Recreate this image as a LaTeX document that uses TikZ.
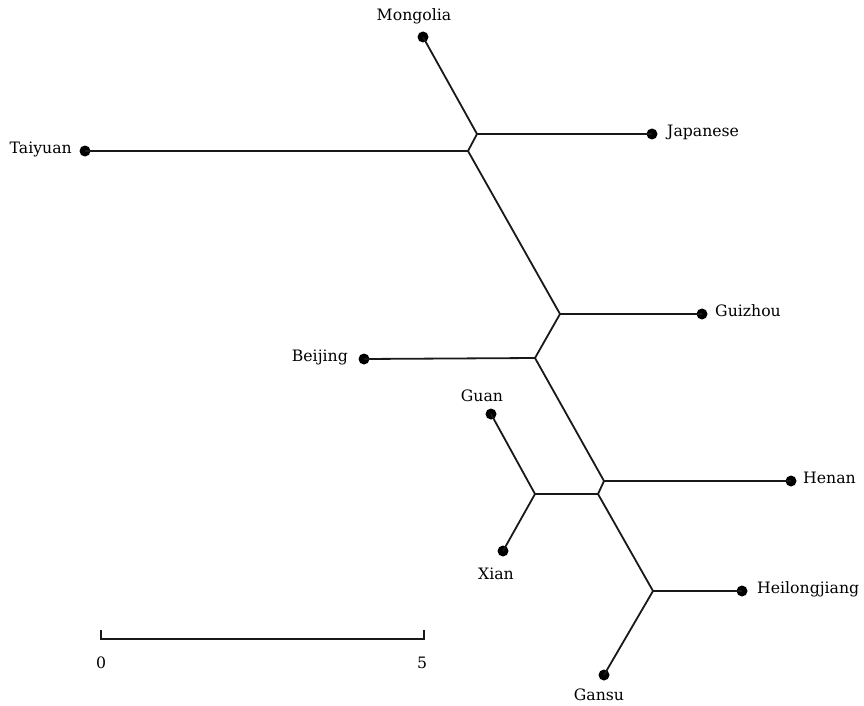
\documentclass[tikz,border=0pt]{standalone}
\usepackage{fontspec}
\setmainfont{DejaVu Serif}
\begin{document}
\begin{tikzpicture}[x=1pt,y=-1pt,
  branch/.style={line width=1.8pt,black!90},
  leaf/.style={circle,fill=black,inner sep=0pt,minimum size=11pt},
  lbl/.style={inner sep=0pt,font=\fontsize{15.7}{18}\selectfont,text=black}]
  \useasboundingbox[fill=white] (0,0) rectangle (864,706);

  % internal junctions of the tree
  \coordinate (jA) at (477,134);
  \coordinate (jB) at (468,151);
  \coordinate (jC) at (560,314);
  \coordinate (jD) at (535,358);
  \coordinate (jE) at (604,481);
  \coordinate (jG) at (598,494);
  \coordinate (jF) at (535,494);
  \coordinate (jH) at (653,591);

  % leaves
  \node[leaf] (mongolia) at (423,37) {};
  \node[leaf] (japanese) at (652,134) {};
  \node[leaf] (taiyuan) at (85,151) {};
  \node[leaf] (guizhou) at (702,314) {};
  \node[leaf] (beijing) at (364,359) {};
  \node[leaf] (guan) at (491,414) {};
  \node[leaf] (henan) at (791,481) {};
  \node[leaf] (xian) at (503,551) {};
  \node[leaf] (heilong) at (742,591) {};
  \node[leaf] (gansu) at (604,675) {};

  % branches
  \draw[branch] (mongolia.center) -- (jA) -- (japanese.center);
  \draw[branch] (jA) -- (jB) -- (taiyuan.center);
  \draw[branch] (jB) -- (jC) -- (guizhou.center);
  \draw[branch] (jC) -- (jD) -- (beijing.center);
  \draw[branch] (jD) -- (jE) -- (henan.center);
  \draw[branch] (jE) -- (jG) -- (jF);
  \draw[branch] (guan.center) -- (jF) -- (xian.center);
  \draw[branch] (jG) -- (jH) -- (heilong.center);
  \draw[branch] (jH) -- (gansu.center);

  % leaf labels
  \node[lbl,anchor=base] (tMongolia) at (414,21) {Mongolia};
  \node[lbl,anchor=mid west] (tJapanese) at (667,134) {Japanese};
  \node[lbl,anchor=mid east] (tTaiyuan) at (72,151) {Taiyuan};
  \node[lbl,anchor=mid west] (tGuizhou) at (715,314) {Guizhou};
  \node[lbl,anchor=mid east] (tBeijing) at (348,359) {Beijing};
  \node[lbl,anchor=base] (tGuan) at (482,401) {Guan};
  \node[lbl,anchor=mid west] (tHenan) at (803,481) {Henan};
  \node[lbl,anchor=base] (tXian) at (496,579) {Xian};
  \node[lbl,anchor=mid west] (tHeilong) at (757,591) {Heilongjiang};
  \node[lbl,anchor=base] (tGansu) at (599,700) {Gansu};

  % scale bar
  \coordinate (s0) at (101,639);
  \coordinate (s5) at (424,639);
  \draw[branch,line cap=butt] ([yshift=9pt]s0) -- (s0) -- (s5) -- ([yshift=9pt]s5);
  \node[lbl,anchor=base] (t0) at (101,668) {0};
  \node[lbl,anchor=base] (t5) at (422,668) {5};
\end{tikzpicture}
\end{document}
